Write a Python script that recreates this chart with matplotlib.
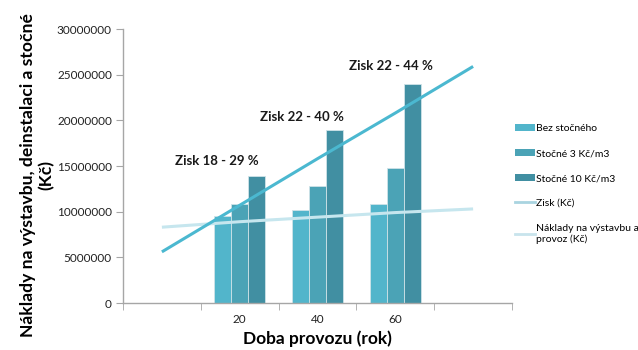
import matplotlib
matplotlib.use("Agg")
import matplotlib.pyplot as plt
from matplotlib.lines import Line2D
from matplotlib.patches import Patch

plt.rcParams['font.family'] = ['Lato', 'DejaVu Sans']

categories = ["", "20", "40", "60", ""]
bar_cats = ["20", "40", "60"]
bez_stocneho = [9.5e6, 10.2e6, 10.8e6]
stocne_3 = [10.8e6, 12.8e6, 14.8e6]
stocne_10 = [13.9e6, 18.9e6, 24.0e6]
zisk_line = [5.6e6, 10.7e6, 15.8e6, 20.8e6, 25.9e6]
naklady_line = [8.3e6, 8.9e6, 9.4e6, 9.9e6, 10.3e6]
annotations = ["Zisk 18 - 29 %", "Zisk 22 - 40 %", "Zisk 22 - 44 %"]
annot_y = [15.55e6, 20.4e6, 25.95e6]
annot_x = [0.705, 1.795, 2.94]

c_bez = "#52b5cb"
c_s3 = "#4ba3b6"
c_s10 = "#418fa2"
c_zisk = "#4bb8d0"
c_nakl = "#c6e6ee"
c_zisk_leg = "#a9d4e0"
c_nakl_leg = "#c8e4ec"

fig = plt.figure(figsize=(6.38, 3.5), dpi=100)
ax = fig.add_axes([123/638, 1 - 303/350, (512-123)/638, (303-29)/350])

bw = 0.218
xs = [categories.index(c) for c in bar_cats]
for off, vals, col in [(-bw, bez_stocneho, c_bez), (0, stocne_3, c_s3), (bw, stocne_10, c_s10)]:
    ax.bar([x + off for x in xs], vals, width=bw, color=col, edgecolor="#cfe3e8", linewidth=0.6, zorder=2)

ax.plot(range(len(categories)), naklady_line, color=c_nakl, lw=2.2, zorder=3, solid_capstyle='butt')
ax.plot(range(len(categories)), zisk_line, color=c_zisk, lw=2.2, zorder=4, solid_capstyle='butt')

for t, x, y in zip(annotations, annot_x, annot_y):
    ax.text(x, y, t, ha="center", va="center", fontsize=9.5, fontweight="bold", color="#1a1a1a")

ax.set_xlim(-0.5, 4.5)
ax.set_ylim(0, 30e6)
ax.set_yticks(range(0, 30000001, 5000000))
ax.set_yticklabels([str(v) for v in range(0, 30000001, 5000000)], fontsize=8.5, color="#222222")
ax.set_xticks(range(len(categories)))
ax.set_xticklabels(categories, fontsize=8.5, color="#222222")
ax.set_xticks([i + 0.5 for i in range(-1, len(categories))], minor=True)
ax.tick_params(axis='x', which='major', length=0, pad=8)
ax.tick_params(axis='x', which='minor', length=5, color="#a6a6a6", direction='out')
ax.tick_params(axis='y', length=5, color="#a6a6a6", direction='out', pad=3)

for s in ['top', 'right']:
    ax.spines[s].set_visible(False)
for s in ['left', 'bottom']:
    ax.spines[s].set_color("#a6a6a6")
    ax.spines[s].set_linewidth(1.0)

ax.set_xlabel("Doba provozu (rok)", fontsize=12.5, fontweight="bold", labelpad=4)
ax.set_ylabel("Náklady na výstavbu, deinstalaci a stočné\n(Kč)", fontsize=12.6,
              fontweight="bold", linespacing=1.2)
ax.yaxis.set_label_coords(-(123 - 55) / 389, (303 - 175) / 274)

handles = [Patch(facecolor=c_bez, label="Bez stočného"),
           Patch(facecolor=c_s3, label="Stočné 3 Kč/m3"),
           Patch(facecolor=c_s10, label="Stočné 10 Kč/m3"),
           Line2D([0], [0], color=c_zisk_leg, lw=2, label="Zisk (Kč)"),
           Line2D([0], [0], color=c_nakl_leg, lw=2, label="Náklady na výstavbu a\nprovoz (Kč)")]
leg = fig.legend(handles=handles, loc="upper left", bbox_to_anchor=(515/638, 1 - 124/350),
                 frameon=False, fontsize=7.5, handlelength=1.9, handleheight=0.7,
                 handletextpad=0.1, labelspacing=1.5, borderaxespad=0, borderpad=0)

fig.savefig("out.png", dpi=100)
